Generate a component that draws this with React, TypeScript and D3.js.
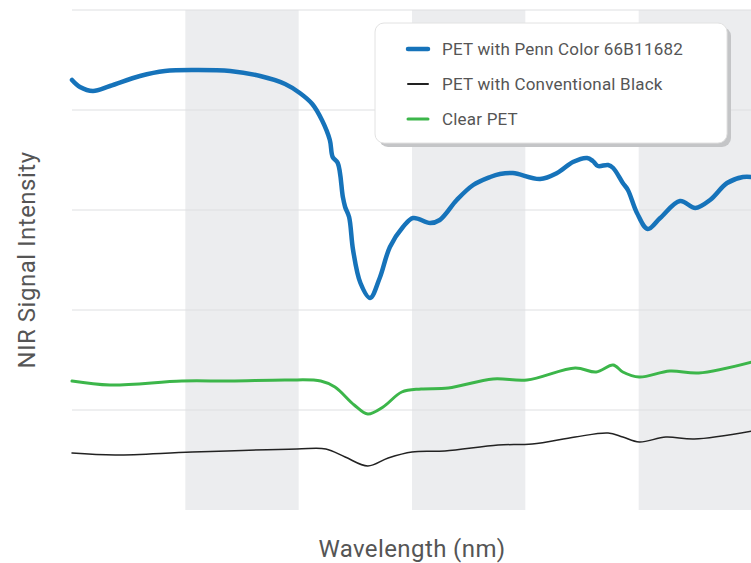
import React from 'react';
import * as d3 from 'd3';

const width = 751;
const height = 563;
const margin = { top: 10, right: -1, bottom: 53, left: 72 };

// Wavelength (nm) / intensity pairs
const pennWavelengths = [1000, 1014, 1037, 1067, 1120, 1164, 1217, 1279, 1332, 1376, 1402, 1424, 1441, 1455, 1460, 1469, 1478, 1482, 1489, 1496, 1509, 1526, 1543, 1561, 1584, 1602, 1632, 1649, 1679, 1708, 1738, 1755, 1778, 1826, 1856, 1884, 1909, 1919, 1928, 1946, 1955, 1972, 1981, 1997, 2016, 2038, 2073, 2100, 2126, 2156, 2184, 2200];
const pennValues = [4.3, 4.23, 4.19, 4.24, 4.34, 4.39, 4.4, 4.39, 4.34, 4.26, 4.17, 4.06, 3.9, 3.7, 3.53, 3.47, 3.13, 3.03, 2.93, 2.6, 2.27, 2.12, 2.32, 2.63, 2.83, 2.92, 2.87, 2.9, 3.1, 3.25, 3.33, 3.36, 3.37, 3.31, 3.37, 3.48, 3.52, 3.49, 3.44, 3.45, 3.42, 3.27, 3.2, 2.97, 2.81, 2.92, 3.09, 3.02, 3.1, 3.27, 3.33, 3.33];

const blackWavelengths = [1000, 1076, 1212, 1397, 1448, 1482, 1522, 1558, 1600, 1658, 1752, 1812, 1888, 1946, 1972, 2001, 2048, 2098, 2200];
const blackValues = [0.57, 0.55, 0.58, 0.61, 0.61, 0.53, 0.44, 0.52, 0.58, 0.59, 0.65, 0.66, 0.73, 0.77, 0.73, 0.68, 0.73, 0.71, 0.79];

const clearWavelengths = [1000, 1067, 1194, 1279, 1379, 1439, 1464, 1498, 1522, 1549, 1582, 1616, 1664, 1743, 1803, 1888, 1925, 1955, 1972, 2001, 2055, 2106, 2200];
const clearValues = [1.29, 1.25, 1.29, 1.29, 1.3, 1.29, 1.23, 1.05, 0.96, 1.03, 1.18, 1.21, 1.22, 1.31, 1.3, 1.42, 1.38, 1.45, 1.38, 1.33, 1.39, 1.37, 1.48];

const bandStarts = [1200, 1600, 2000];
const bandWidth = 200;
const gridValues = [1, 2, 3, 4, 5];

const seriesNames = ['PET with Penn Color 66B11682', 'PET with Conventional Black', 'Clear PET'];
const seriesColors = ['#1673ba', '#222222', '#3cb64a'];
const seriesWidths = [4.5, 1.5, 3];

const App: React.FC = () => {
  const x = d3.scaleLinear().domain([1000, 2200]).range([margin.left, width - margin.right]);
  const y = d3.scaleLinear().domain([0, 5]).range([height - margin.bottom, margin.top]);

  const line = d3.line<[number, number]>()
    .x(d => x(d[0]))
    .y(d => y(d[1]))
    .curve(d3.curveCatmullRom.alpha(0.5));

  const series = [
    d3.zip(pennWavelengths, pennValues) as [number, number][],
    d3.zip(blackWavelengths, blackValues) as [number, number][],
    d3.zip(clearWavelengths, clearValues) as [number, number][],
  ];

  const font = 'Roboto, sans-serif';
  const legendX = 375;
  const legendY = 23;

  return (
    <div style={{ position: 'fixed', left: 0, top: 0 }}>
      <svg width={width} height={height} viewBox={`0 0 ${width} ${height}`} style={{ display: 'block', background: '#fff' }}>
        {/* vertical bands */}
        {bandStarts.map(b => (
          <rect key={b} x={x(b)} y={y(5)} width={x(b + bandWidth) - x(b)} height={y(0) - y(5)} fill="#ecedef" />
        ))}
        {/* horizontal grid */}
        {gridValues.map(v => (
          <line key={v} x1={x(1000)} x2={width} y1={y(v)} y2={y(v)} stroke="#dedfe1" strokeWidth={1} />
        ))}

        {/* series, drawn back to front */}
        {[1, 2, 0].map(i => (
          <path key={i} d={line(series[i]) || ''} fill="none" stroke={seriesColors[i]} strokeWidth={seriesWidths[i]} strokeLinejoin="round" strokeLinecap="round" />
        ))}

        {/* legend */}
        <g transform={`translate(${legendX},${legendY})`}>
          <rect x={4} y={4} width={352} height={120} rx={9} fill="#c4c5c7" />
          <rect x={0} y={0} width={352} height={120} rx={9} fill="#fff" stroke="#e2e2e2" />
          {seriesNames.map((name, i) => (
            <g key={name} transform={`translate(0,${26 + i * 35})`}>
              <line x1={33} x2={53} y1={0} y2={0} stroke={seriesColors[i]} strokeWidth={seriesWidths[i] === 1.5 ? 2 : seriesWidths[i]} strokeLinecap="round" />
              <text x={67} y={0} dy="0.35em" fontFamily={font} fontSize={17} letterSpacing={0.2} fill="#555">{name}</text>
            </g>
          ))}
        </g>

        {/* axis titles */}
        <text transform={`translate(35,${(y(0) + y(5)) / 2}) rotate(-90)`} textAnchor="middle" fontFamily={font} fontSize={24} letterSpacing={0.5} fill="#555">NIR Signal Intensity</text>
        <text x={(x(1000) + x(2200)) / 2} y={557} textAnchor="middle" fontFamily={font} fontSize={24} letterSpacing={0.4} fill="#555">Wavelength (nm)</text>
      </svg>
    </div>
  );
};

export default App;
